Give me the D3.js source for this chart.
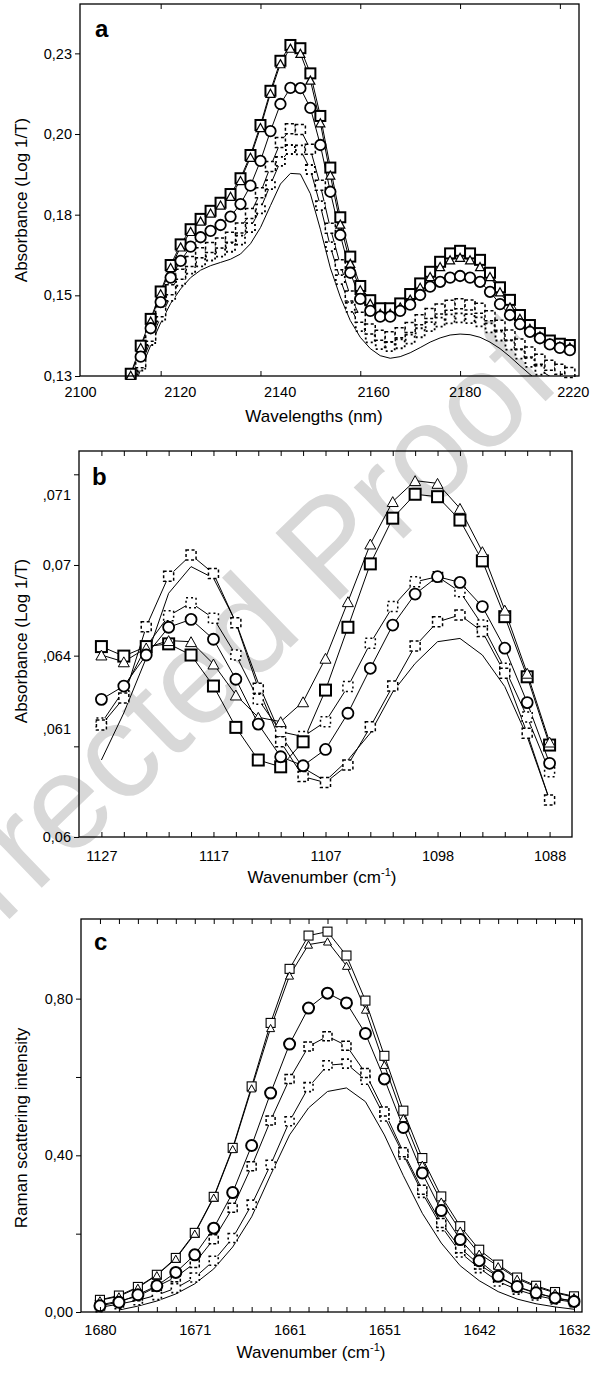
<!DOCTYPE html>
<html><head><meta charset="utf-8">
<script src="https://cdn.jsdelivr.net/npm/d3@7"></script>
<style>body{margin:0;background:#fff} svg text{font-family:"Liberation Sans",Arial,sans-serif}</style>
</head><body><svg id="chart" width="594" height="1375"></svg>
<script>
// ---------- Panel a (NIR) ----------
const wavelengthsA = [2112.2,2114.6,2117.0,2119.4,2121.8,2124.2,2126.6,2129.0,2131.4,2133.8,2136.2,2138.6,2141.0,2143.4,2145.8,2148.2,2150.6,2153.0,2155.4,2157.8,2160.2,2162.6,2165.0,2167.4,2169.8,2172.2,2174.6,2177.0,2179.4,2181.8,2184.2,2186.6,2189.0,2191.4,2193.8,2196.2,2198.6,2201.0,2203.4,2205.8,2208.2,2210.6,2213.0,2215.4,2217.8];
const aSquare = [0.1257,0.1344,0.1427,0.1512,0.1594,0.1658,0.1705,0.1737,0.1762,0.1787,0.1814,0.1863,0.1935,0.2028,0.2134,0.2227,0.2276,0.2266,0.2188,0.2056,0.1896,0.1742,0.1620,0.1529,0.1485,0.1460,0.1460,0.1475,0.1504,0.1537,0.1573,0.1604,0.1630,0.1638,0.1630,0.1610,0.1570,0.1525,0.1486,0.1439,0.1408,0.1383,0.1360,0.1350,0.1346];
const aTriangle = [0.1252,0.1338,0.1420,0.1505,0.1586,0.1650,0.1698,0.1730,0.1755,0.1780,0.1807,0.1856,0.1928,0.2020,0.2126,0.2218,0.2266,0.2250,0.2167,0.2035,0.1873,0.1721,0.1599,0.1517,0.1475,0.1444,0.1444,0.1464,0.1488,0.1525,0.1558,0.1589,0.1610,0.1618,0.1610,0.1589,0.1558,0.1511,0.1464,0.1429,0.1398,0.1375,0.1352,0.1343,0.1340];
const aCircle = [0.1225,0.1310,0.1398,0.1479,0.1555,0.1607,0.1651,0.1680,0.1700,0.1718,0.1744,0.1783,0.1840,0.1917,0.2009,0.2093,0.2143,0.2142,0.2081,0.1966,0.1821,0.1687,0.1570,0.1489,0.1452,0.1434,0.1434,0.1452,0.1471,0.1501,0.1527,0.1542,0.1555,0.1560,0.1555,0.1542,0.1511,0.1473,0.1439,0.1411,0.1387,0.1367,0.1348,0.1337,0.1330];
const aDash1 = [0.1208,0.1291,0.1373,0.1449,0.1517,0.1565,0.1605,0.1632,0.1648,0.1662,0.1680,0.1709,0.1754,0.1818,0.1899,0.1974,0.2016,0.2014,0.1953,0.1841,0.1708,0.1595,0.1498,0.1432,0.1396,0.1376,0.1372,0.1384,0.1400,0.1424,0.1444,0.1458,0.1469,0.1474,0.1470,0.1460,0.1437,0.1407,0.1377,0.1349,0.1324,0.1302,0.1283,0.1271,0.1261];
const aDash2 = [0.1199,0.1281,0.1360,0.1433,0.1497,0.1544,0.1581,0.1604,0.1622,0.1634,0.1649,0.1671,0.1710,0.1768,0.1843,0.1915,0.1952,0.1951,0.1890,0.1778,0.1651,0.1549,0.1463,0.1403,0.1368,0.1347,0.1341,0.1350,0.1364,0.1384,0.1403,0.1417,0.1427,0.1430,0.1428,0.1418,0.1399,0.1374,0.1346,0.1318,0.1292,0.1268,0.1249,0.1235,0.1224];
const aLine = [0.1190,0.1270,0.1345,0.1415,0.1475,0.1520,0.1555,0.1578,0.1592,0.1602,0.1612,0.1628,0.1660,0.1710,0.1778,0.1845,0.1878,0.1876,0.1815,0.1705,0.1585,0.1495,0.1422,0.1370,0.1335,0.1313,0.1305,0.1310,0.1322,0.1338,0.1355,0.1368,0.1377,0.1380,0.1378,0.1370,0.1355,0.1335,0.1310,0.1282,0.1255,0.1230,0.1208,0.1190,0.1175];
const yTickValsA = [0.125,0.15,0.175,0.2,0.225];
const yLabelsA = ["0,13","0,15","0,18","0,20","0,23"];
const xTickValsA = [2119.4,2143.4,2167.4,2191.4,2215.4];
const xLabelsA = ["2100","2120","2140","2160","2180","2220"];
const xLabelValsA = [2100,2124,2148,2170.5,2192.5,2218.5];

// ---------- Panel b (MIR) ----------
const wavenumbersB = [1127.00,1125.05,1123.10,1121.15,1119.20,1117.25,1115.30,1113.35,1111.40,1109.45,1107.50,1105.55,1103.60,1101.65,1099.70,1097.75,1095.80,1093.85,1091.90,1089.95,1088.00];
const bSquare = [0.06700,0.06665,0.06700,0.06710,0.06669,0.06555,0.06403,0.06283,0.06258,0.06350,0.06540,0.06771,0.07004,0.07172,0.07260,0.07251,0.07165,0.07015,0.06810,0.06589,0.06338];
const bTriangle = [0.06669,0.06644,0.06695,0.06722,0.06718,0.06636,0.06522,0.06440,0.06424,0.06497,0.06657,0.06865,0.07077,0.07233,0.07310,0.07300,0.07208,0.07049,0.06834,0.06602,0.06349];
const bCircle = [0.06506,0.06555,0.06669,0.06771,0.06800,0.06727,0.06580,0.06415,0.06295,0.06262,0.06322,0.06455,0.06620,0.06779,0.06893,0.06957,0.06936,0.06847,0.06694,0.06494,0.06271];
const bDash1 = [0.06412,0.06511,0.06773,0.06959,0.07037,0.06969,0.06788,0.06547,0.06350,0.06222,0.06200,0.06265,0.06405,0.06555,0.06702,0.06791,0.06816,0.06755,0.06602,0.06381,0.06136];
const bDash2 = [0.06419,0.06540,0.06700,0.06813,0.06861,0.06804,0.06669,0.06506,0.06387,0.06369,0.06424,0.06553,0.06712,0.06847,0.06938,0.06957,0.06902,0.06779,0.06620,0.06441,0.06240];
const bLine = [0.06283,0.06456,0.06658,0.06896,0.06994,0.06952,0.06790,0.06566,0.06375,0.06254,0.06206,0.06283,0.06382,0.06533,0.06638,0.06718,0.06730,0.06669,0.06553,0.06369,0.06136];
const yTickValsB = [0.06,0.063333,0.066667,0.07,0.073333];
const yLabelsB = ["0,06",",061",",064","0,07",",071"];
const yLabelValsB = [0.06,0.06397,0.066667,0.07,0.07257];
const xLabelsB = ["1127","1117","1107","1098","1088"];
const xLabelValsB = [1127.00,1117.25,1107.50,1097.75,1088.00];

// ---------- Panel c (Raman) ----------
const wavenumbersC = [1680.00,1678.08,1676.16,1674.24,1672.32,1670.40,1668.48,1666.56,1664.64,1662.72,1660.80,1658.88,1656.96,1655.04,1653.12,1651.20,1649.28,1647.36,1645.44,1643.52,1641.60,1639.68,1637.76,1635.84,1633.92,1632.00];
const cSquare = [0.031,0.042,0.064,0.095,0.138,0.202,0.294,0.419,0.576,0.738,0.876,0.961,0.971,0.910,0.795,0.654,0.514,0.393,0.295,0.219,0.159,0.121,0.088,0.067,0.051,0.040];
const cTriangle = [0.030,0.040,0.062,0.094,0.136,0.200,0.292,0.416,0.571,0.725,0.859,0.938,0.946,0.884,0.772,0.631,0.495,0.376,0.282,0.208,0.149,0.117,0.085,0.064,0.049,0.038];
const cCircle = [0.016,0.025,0.044,0.067,0.101,0.146,0.214,0.305,0.425,0.559,0.684,0.776,0.814,0.789,0.711,0.595,0.471,0.355,0.259,0.185,0.131,0.091,0.065,0.049,0.036,0.027];
const cDash1 = [0.018,0.028,0.040,0.065,0.089,0.125,0.186,0.266,0.372,0.489,0.595,0.678,0.704,0.680,0.610,0.512,0.408,0.312,0.227,0.163,0.121,0.090,0.064,0.048,0.036,0.028];
const cDash2 = [0.012,0.020,0.030,0.043,0.061,0.088,0.131,0.189,0.274,0.376,0.487,0.574,0.630,0.634,0.593,0.499,0.402,0.304,0.219,0.152,0.112,0.078,0.057,0.042,0.032,0.025];
const cLine = [null,0.005,0.015,0.028,0.046,0.072,0.110,0.166,0.243,0.350,0.452,0.521,0.563,0.572,0.537,0.452,0.348,0.252,0.176,0.118,0.080,0.052,0.033,0.021,0.013,0.007];
const yTickValsC = [0,0.2,0.4,0.6,0.8];
const yLabelsC = ["0,00","0,40","0,80"];
const yLabelValsC = [0,0.4,0.8];
const xLabelsC = ["1680","1671","1661","1651","1642","1632"];
const xLabelValsC = [1680.00,1670.40,1660.80,1651.20,1641.60,1632.00];

const svg = d3.select('#chart');
svg.append('rect').attr('width',594).attr('height',1375).attr('fill','#fff');

// watermark (light grey, behind the plots)
svg.append('text').text('Corrected Proof')
  .attr('transform','translate(189,681) rotate(-44)')
  .attr('text-anchor','middle').attr('dominant-baseline','central')
  .attr('font-size',135).attr('fill','#d8d8d8');

function drawPanel(p){
  const g = svg.append('g');
  const x = d3.scaleLinear().domain(p.xDomain).range([p.left,p.right]);
  const y = d3.scaleLinear().domain(p.yDomain).range([p.bottom,p.top]);
  const cid = 'clip'+p.id;
  svg.append('clipPath').attr('id',cid).append('rect')
    .attr('x',p.left).attr('y',p.top).attr('width',p.right-p.left).attr('height',p.bottom-p.top);
  const lg = g.append('g').attr('clip-path',`url(#${cid})`);
  p.series.forEach(s=>{
    const pts = p.xs.map((xv,i)=>({x:xv,v:s.values[i]}));
    lg.append('path').datum(pts)
      .attr('d',d3.line().defined(d=>d.v!=null).x(d=>x(d.x)).y(d=>y(d.v)))
      .attr('fill','none').attr('stroke','#000').attr('stroke-width',1);
  });
  const mg = g.append('g');
  p.series.forEach(s=>{
    if(s.marker==='none') return;
    const st = p.style[s.marker];
    const pts = p.xs.map((xv,i)=>({x:xv,v:s.values[i]}))
      .filter(d=>d.v!=null && d.v>=p.yDomain[0] && d.v<=p.yDomain[1]);
    const sel = mg.selectAll(null).data(pts).enter();
    let m;
    if(s.marker==='circle'){
      m = sel.append('circle').attr('cx',d=>x(d.x)).attr('cy',d=>y(d.v)).attr('r',st.size/2);
    } else if(s.marker==='triangle'){
      const h = st.size*0.9, w = st.size;
      m = sel.append('path').attr('d',d=>{const cx=x(d.x),cy=y(d.v);
        return `M${cx},${cy-h/2}L${cx+w/2},${cy+h/2}L${cx-w/2},${cy+h/2}Z`;});
    } else {
      m = sel.append('rect').attr('x',d=>x(d.x)-st.size/2).attr('y',d=>y(d.v)-st.size/2)
        .attr('width',st.size).attr('height',st.size);
    }
    m.attr('fill','#fff').attr('stroke','#000').attr('stroke-width',st.sw);
    if(st.dash) m.attr('stroke-dasharray',st.dash);
  });
  g.append('rect').attr('x',p.left).attr('y',p.top).attr('width',p.right-p.left).attr('height',p.bottom-p.top)
    .attr('fill','none').attr('stroke','#000').attr('stroke-width',1.3);
  const style = sel=>{sel.select('.domain').remove(); sel.selectAll('line').attr('stroke','#000');
    sel.selectAll('text').attr('font-family','"Liberation Sans",Arial,sans-serif').attr('font-size',p.tickFont).attr('fill','#000');};
  g.append('g').attr('transform',`translate(${p.left},0)`)
    .call(d3.axisLeft(y).tickValues(p.yTicks).tickSize(5).tickFormat('')).call(style);
  g.append('g').attr('transform',`translate(${p.left},0)`)
    .call(d3.axisLeft(y).tickValues(p.yLabelVals).tickSize(0).tickPadding(8).tickFormat((d,i)=>p.yLabels[i])).call(style);
  g.append('g').attr('transform',`translate(0,${p.bottom})`)
    .call(d3.axisBottom(x).tickValues(p.xTicks).tickSize(-5).tickFormat('')).call(style);
  g.append('g').attr('transform',`translate(0,${p.top})`)
    .call(d3.axisTop(x).tickValues(p.xTicks).tickSize(-5).tickFormat('')).call(style);
  g.append('g').attr('transform',`translate(0,${p.bottom})`)
    .call(d3.axisBottom(x).tickValues(p.xLabelVals).tickSize(0).tickPadding(p.labelPad).tickFormat((d,i)=>p.xLabels[i])).call(style);
  g.append('text').attr('x',p.letterPos[0]).attr('y',p.letterPos[1]).text(p.letter)
    .attr('font-size',24).attr('font-weight','bold');
  g.append('text').attr('transform',`translate(27,${p.yTitleY}) rotate(-90)`).attr('text-anchor','middle')
    .attr('font-size',17).text(p.yTitle);
  const xt = g.append('text').attr('x',p.xTitleX).attr('y',p.bottom+46).attr('text-anchor','middle').attr('font-size',17);
  if(p.xTitleSup){
    xt.append('tspan').text(p.xTitle);
    xt.append('tspan').attr('font-size',11).attr('dy',-7).text(p.xTitleSup);
    xt.append('tspan').attr('dy',7).text(')');
  } else xt.text(p.xTitle);
}

drawPanel({
  id:'a', left:80, right:579, top:4, bottom:376,
  xDomain:[2100,2220], yDomain:[0.125,0.2403], xs:wavelengthsA,
  series:[
    {values:aLine, marker:'none'},
    {values:aDash2, marker:'dsq2'},
    {values:aDash1, marker:'dsq1'},
    {values:aSquare, marker:'square'},
    {values:aTriangle, marker:'triangle'},
    {values:aCircle, marker:'circle'}],
  style:{square:{size:10,sw:2}, triangle:{size:9,sw:1.2}, circle:{size:10.5,sw:1.8},
         dsq1:{size:10,sw:1.5,dash:'3,2.5'}, dsq2:{size:9,sw:1.8,dash:'2,3'}},
  yTicks:yTickValsA, yLabelVals:yTickValsA, yLabels:yLabelsA,
  xTicks:xTickValsA, xLabelVals:xLabelValsA, xLabels:xLabelsA, labelPad:11,
  tickFont:14.5, letter:'a', letterPos:[95,37],
  yTitle:'Absorbance (Log 1/T)', yTitleY:200, xTitle:'Wavelengths (nm)', xTitleX:314
});

drawPanel({
  id:'b', left:79, right:572, top:451, bottom:837,
  xDomain:[1128.95,1086.05], yDomain:[0.06,0.07419], xs:wavenumbersB,
  series:[
    {values:bLine, marker:'none'},
    {values:bDash2, marker:'dsq2'},
    {values:bDash1, marker:'dsq1'},
    {values:bSquare, marker:'square'},
    {values:bTriangle, marker:'triangle'},
    {values:bCircle, marker:'circle'}],
  style:{square:{size:11,sw:2}, triangle:{size:11,sw:1}, circle:{size:11,sw:1.8},
         dsq1:{size:10,sw:1.5,dash:'3,2.5'}, dsq2:{size:10,sw:1.5,dash:'2,3'}},
  yTicks:yTickValsB, yLabelVals:yLabelValsB, yLabels:yLabelsB,
  xTicks:wavenumbersB, xLabelVals:xLabelValsB, xLabels:xLabelsB, labelPad:14,
  tickFont:14.5, letter:'b', letterPos:[92,485],
  yTitle:'Absorbance (Log 1/T)', yTitleY:641, xTitle:'Wavenumber (cm', xTitleSup:'-1', xTitleX:322
});

drawPanel({
  id:'c', left:81, right:582, top:919, bottom:1312,
  xDomain:[1681.92,1631.19], yDomain:[0,1.0033], xs:wavenumbersC,
  series:[
    {values:cLine, marker:'none'},
    {values:cDash2, marker:'dsq2'},
    {values:cDash1, marker:'dsq1'},
    {values:cSquare, marker:'square'},
    {values:cTriangle, marker:'triangle'},
    {values:cCircle, marker:'circle'}],
  style:{square:{size:9,sw:1.1}, triangle:{size:8,sw:1}, circle:{size:11,sw:2},
         dsq1:{size:9,sw:1.5,dash:'3,2'}, dsq2:{size:9,sw:1.6,dash:'2,3'}},
  yTicks:yTickValsC, yLabelVals:yLabelValsC, yLabels:yLabelsC,
  xTicks:wavenumbersC, xLabelVals:xLabelValsC, xLabels:xLabelsC, labelPad:13,
  tickFont:14.5, letter:'c', letterPos:[94,950],
  yTitle:'Raman scattering intensity', yTitleY:1128, xTitle:'Wavenumber (cm', xTitleSup:'-1', xTitleX:311
});
</script></body></html>
